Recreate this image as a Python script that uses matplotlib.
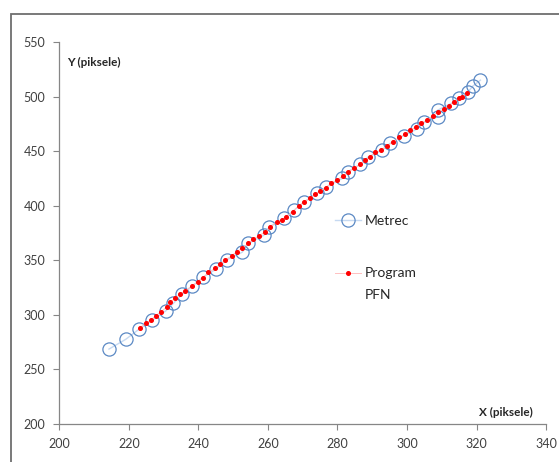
import matplotlib
matplotlib.use('Agg')
import matplotlib.pyplot as plt
from matplotlib.patches import Rectangle

plt.rcParams['font.family'] = ['Lato', 'DejaVu Sans']

# Metrec (measured) points
metrec_x = [214.3, 219.1, 222.9, 226.8, 230.6, 232.8, 235.4, 238.3, 241.3, 245.0,
            248.2, 252.6, 254.4, 258.8, 260.4, 264.6, 267.5, 270.5, 274.2, 276.8,
            281.4, 282.9, 286.5, 288.9, 292.9, 295.1, 299.0, 302.8, 305.0, 308.8,
            308.8, 312.7, 315.0, 317.4, 318.9, 321.1]
metrec_y = [268.7, 277.6, 286.8, 295.3, 303.6, 310.6, 318.9, 326.5, 334.5, 341.8,
            350.5, 357.5, 365.6, 373.0, 380.8, 388.5, 396.0, 403.8, 411.8, 417.3,
            425.2, 431.3, 438.0, 445.0, 451.1, 457.3, 464.3, 470.4, 476.5, 481.7,
            487.8, 494.0, 498.5, 504.0, 509.8, 515.3]

# Program PFN points
pfn_x = [223.3, 224.9, 226.4, 227.7, 229.3, 231.0, 231.8, 233.3, 234.7, 236.2,
         238.1, 239.8, 241.3, 242.9, 244.8, 246.2, 247.7, 249.6, 251.0, 252.5,
         254.4, 255.8, 257.5, 259.2, 260.6, 262.5, 264.0, 265.2, 267.1, 268.8,
         270.4, 272.1, 273.6, 275.0, 276.6, 278.1, 279.8, 281.5, 283.1, 284.8,
         286.4, 288.0, 289.4, 290.8, 292.5, 294.2, 296.1, 297.8, 299.5, 300.9,
         302.6, 304.0, 305.7, 307.4, 308.8, 310.5, 312.0, 313.4, 314.8, 315.8,
         317.2]
pfn_y = [288.3, 292.3, 295.3, 299.3, 302.9, 307.5, 311.5, 315.2, 318.9, 322.2,
         326.5, 330.4, 334.1, 339.0, 342.7, 346.4, 350.3, 354.3, 357.9, 361.0,
         365.6, 369.6, 372.6, 376.3, 380.3, 384.9, 387.0, 390.0, 394.6, 399.8,
         403.8, 406.9, 410.8, 413.6, 416.6, 420.6, 423.6, 427.3, 431.3, 434.3,
         438.0, 441.9, 445.0, 449.0, 451.1, 455.1, 458.7, 462.8, 465.8, 469.5,
         472.5, 475.6, 478.7, 482.6, 485.7, 488.8, 491.8, 494.9, 498.6, 500.1,
         503.2]

x_ticks = [200, 220, 240, 260, 280, 300, 320, 340]
y_ticks = [200, 250, 300, 350, 400, 450, 500, 550]

fig = plt.figure(figsize=(5.59, 4.62), dpi=100)
ax = fig.add_axes([0.106, 0.0823, 0.871, 0.8261])

ax.plot(metrec_x, metrec_y, color='#c6d9f1', lw=1, marker='o', markersize=9.5,
        markerfacecolor='none', markeredgecolor='#5b89c4', markeredgewidth=0.9,
        label='Metrec', zorder=2)
ax.plot(pfn_x, pfn_y, color='#ffc0c0', lw=0.7, marker='o', markersize=2.6,
        markerfacecolor='red', markeredgecolor='red', label='Program', zorder=3)

ax.set_xlim(200, 340)
ax.set_ylim(200, 550)
ax.set_xticks(x_ticks)
ax.set_yticks(y_ticks)
for s in ['top', 'right']:
    ax.spines[s].set_visible(False)
for s in ['left', 'bottom']:
    ax.spines[s].set_color('#868686')
    ax.spines[s].set_linewidth(0.9)
ax.tick_params(direction='out', length=4, color='#868686', labelsize=9,
               labelcolor='#404040', pad=6)

ax.text(0.016, 0.948, 'Y (piksele)', transform=ax.transAxes, fontsize=8.5,
        fontweight='bold', color='#262626', ha='left', va='center')
ax.text(0.973, 0.031, 'X (piksele)', transform=ax.transAxes, fontsize=8.5,
        fontweight='bold', color='#262626', ha='right', va='center')

leg = ax.legend(loc='upper left', bbox_to_anchor=(0.54, 0.58), frameon=False,
                fontsize=10, labelspacing=2.9, handlelength=1.9,
                handletextpad=0.3, labelcolor='#262626')

# second line of the PFN legend entry, placed under "Program"
fig.canvas.draw()
bb = leg.get_texts()[1].get_window_extent().transformed(ax.transAxes.inverted())
ax.text(bb.x0, bb.y0 - 0.04, 'PFN', transform=ax.transAxes, fontsize=10,
        color='#262626', ha='left', va='center')

# outer chart border (cropped on right and bottom)
fig.patches.append(Rectangle((11 / 559, -0.1), 1.2, 1.1 - 14 / 462,
                             transform=fig.transFigure, fill=False,
                             edgecolor='#6e6e6e', lw=1.3, clip_on=False))

fig.savefig('out.png', dpi=100)
